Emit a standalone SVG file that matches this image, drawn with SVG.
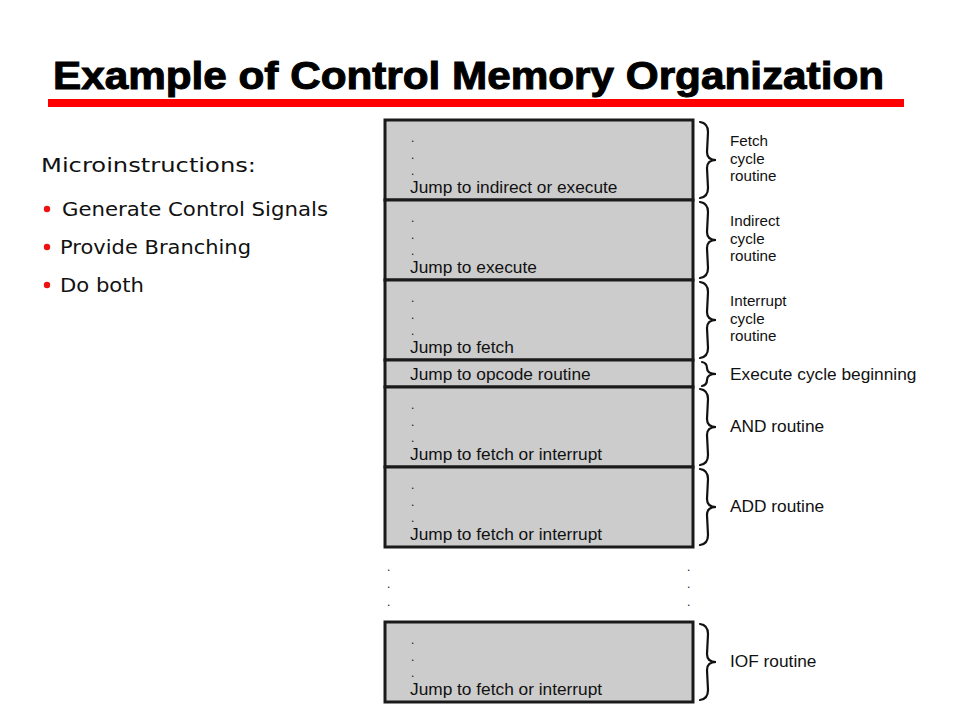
<svg xmlns="http://www.w3.org/2000/svg" width="960" height="720" viewBox="0 0 960 720">
<style>
.blk{fill:#cccccc;stroke:#1a1a1a;stroke-width:3}
.t{font-family:"Liberation Sans",Arial,sans-serif;font-size:17.3px;fill:#111}
.d{font-family:"Liberation Sans",Arial,sans-serif;font-size:12px;fill:#111}
.lbl{font-family:"Liberation Sans",Arial,sans-serif;font-size:17.3px;fill:#111}
.ml{font-family:"Liberation Sans",Arial,sans-serif;font-size:15.2px;fill:#111}
.br{fill:none;stroke:#111;stroke-width:2.2;stroke-linecap:round}
.side{font-family:"DejaVu Sans",Verdana,sans-serif;fill:#111}
.dot{fill:#ee1111}
</style>
<rect width="960" height="720" fill="#ffffff"/>
<text x="53" y="89" font-family="Liberation Sans,Arial,sans-serif" font-weight="bold" font-size="38" stroke="#000" stroke-width="1" textLength="831" lengthAdjust="spacingAndGlyphs" fill="#000">Example of Control Memory Organization</text>
<rect x="48" y="99" width="856" height="8" fill="#ff0000"/>
<g id="side">
<text class="side" x="41" y="172" font-size="20" textLength="215" lengthAdjust="spacingAndGlyphs">Microinstructions:</text>
<circle class="dot" cx="47" cy="209" r="3.2"/>
<text class="side" x="62" y="216" font-size="19" textLength="266" lengthAdjust="spacingAndGlyphs">Generate Control Signals</text>
<circle class="dot" cx="47" cy="247" r="3.2"/>
<text class="side" x="60" y="254" font-size="19" textLength="191" lengthAdjust="spacingAndGlyphs">Provide Branching</text>
<circle class="dot" cx="47" cy="285" r="3.2"/>
<text class="side" x="60" y="292" font-size="19" textLength="84" lengthAdjust="spacingAndGlyphs">Do both</text>
</g>
<g id="fetch">
<rect class="blk" x="385" y="120" width="308" height="80"/>
<text class="d" x="411" y="142">.</text><text class="d" x="411" y="159">.</text><text class="d" x="411" y="175">.</text>
<text class="t" x="410" y="193">Jump to indirect or execute</text>
</g>
<g id="indirect">
<rect class="blk" x="385" y="200" width="308" height="80"/>
<text class="d" x="411" y="222">.</text><text class="d" x="411" y="239">.</text><text class="d" x="411" y="255">.</text>
<text class="t" x="410" y="273">Jump to execute</text>
</g>
<g id="interrupt">
<rect class="blk" x="385" y="280" width="308" height="80"/>
<text class="d" x="411" y="302">.</text><text class="d" x="411" y="319">.</text><text class="d" x="411" y="335">.</text>
<text class="t" x="410" y="353">Jump to fetch</text>
</g>
<g id="execute">
<rect class="blk" x="385" y="360" width="308" height="27"/>
<text class="t" x="410" y="380">Jump to opcode routine</text>
</g>
<g id="and">
<rect class="blk" x="385" y="387" width="308" height="80"/>
<text class="d" x="411" y="409">.</text><text class="d" x="411" y="426">.</text><text class="d" x="411" y="442">.</text>
<text class="t" x="410" y="460">Jump to fetch or interrupt</text>
</g>
<g id="add">
<rect class="blk" x="385" y="467" width="308" height="80"/>
<text class="d" x="411" y="489">.</text><text class="d" x="411" y="506">.</text><text class="d" x="411" y="522">.</text>
<text class="t" x="410" y="540">Jump to fetch or interrupt</text>
</g>
<g id="gap">
<text class="d" x="387" y="571">.</text><text class="d" x="387" y="588">.</text><text class="d" x="387" y="606">.</text>
<text class="d" x="687" y="571">.</text><text class="d" x="687" y="588">.</text><text class="d" x="687" y="606">.</text>
</g>
<g id="iof">
<rect class="blk" x="385" y="622" width="308" height="80"/>
<text class="d" x="411" y="644">.</text><text class="d" x="411" y="661">.</text><text class="d" x="411" y="677">.</text>
<text class="t" x="410" y="695">Jump to fetch or interrupt</text>
</g>
<g id="braces">
<path class="br" d="M700 122 Q708 123 708 132 L707 152 Q707 160 716 160 Q707 160 707 168 L708 188 Q708 197 700 198"/>
<path class="br" d="M700 202 Q708 203 708 212 L707 232 Q707 240 716 240 Q707 240 707 248 L708 268 Q708 277 700 278"/>
<path class="br" d="M700 282 Q708 283 708 292 L707 312 Q707 320 716 320 Q707 320 707 328 L708 348 Q708 357 700 358"/>
<path class="br" d="M702 362 Q707 363 707 368 Q707 374 716 374 Q707 374 707 380 Q707 385 702 386"/>
<path class="br" d="M700 389 Q708 390 708 399 L707 419 Q707 427 716 427 Q707 427 707 435 L708 455 Q708 464 700 465"/>
<path class="br" d="M700 469 Q708 470 708 479 L707 499 Q707 507 716 507 Q707 507 707 515 L708 535 Q708 544 700 545"/>
<path class="br" d="M700 624 Q708 625 708 634 L707 654 Q707 662 716 662 Q707 662 707 670 L708 690 Q708 699 700 700"/>
</g>
<g id="labels">
<text class="ml"><tspan x="730" y="146">Fetch</tspan><tspan x="730" y="163.5">cycle</tspan><tspan x="730" y="181">routine</tspan></text>
<text class="ml"><tspan x="730" y="226">Indirect</tspan><tspan x="730" y="243.5">cycle</tspan><tspan x="730" y="261">routine</tspan></text>
<text class="ml"><tspan x="730" y="306">Interrupt</tspan><tspan x="730" y="323.5">cycle</tspan><tspan x="730" y="341">routine</tspan></text>
<text class="lbl" x="730" y="380">Execute cycle beginning</text>
<text class="lbl" x="730" y="432">AND routine</text>
<text class="lbl" x="730" y="512">ADD routine</text>
<text class="lbl" x="730" y="667">IOF routine</text>
</g>
</svg>
